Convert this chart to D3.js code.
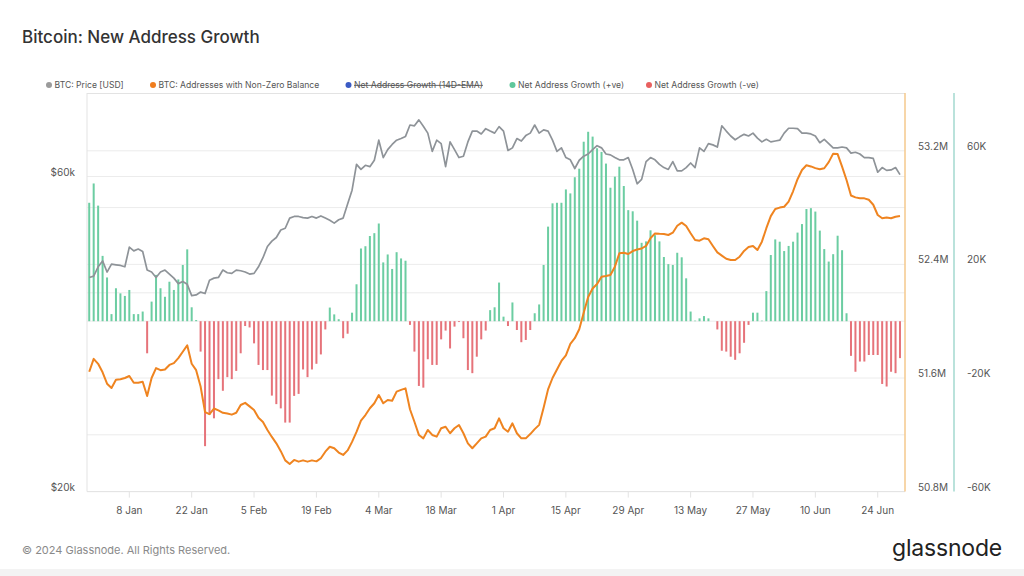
<!DOCTYPE html>
<html><head><meta charset="utf-8">
<script src="https://cdn.jsdelivr.net/npm/d3@7"></script>
<style>
body{margin:0;background:#fff;}
svg{display:block;font-family:Inter,"Open Sans","Noto Sans",sans-serif;}
</style>
</head><body><svg id="c" width="1024" height="576"></svg>
<script>
// ---------------- DATA ----------------
const startDate = "2023-12-30"; // first daily observation
const xTickLabels = ["2024-01-08","2024-01-22","2024-02-05","2024-02-19","2024-03-04","2024-03-18","2024-04-01","2024-04-15","2024-04-29","2024-05-13","2024-05-27","2024-06-10","2024-06-24"];

// BTC price, thousands USD (daily)
const priceK = [
42.2,42.4,43.8,44.7,43.0,44.2,44.1,44.0,43.8,46.9,
46.3,46.6,46.2,43.3,43.0,42.2,43.0,43.3,42.7,42.1,
41.3,41.6,41.2,39.6,39.7,40.1,39.9,41.8,42.1,42.2,
43.3,42.9,42.8,43.3,43.2,43.0,42.7,42.8,43.8,45.2,
47.0,47.9,48.5,49.8,50.1,51.9,52.2,52.2,52.0,51.9,
52.2,51.9,52.3,51.9,51.5,51.0,51.6,51.9,54.5,57.2,
62.6,61.5,62.4,62.1,63.5,68.1,64.1,65.9,67.1,68.1,
68.5,69.0,71.8,71.6,73.1,71.5,69.8,65.5,68.1,67.3,
62.1,67.7,65.9,64.1,64.4,67.7,70.3,70.3,69.6,70.9,
70.3,69.8,71.4,70.3,65.7,66.3,68.5,67.9,69.2,69.8,
71.8,69.8,70.6,70.3,68.1,65.5,66.3,64.1,63.6,61.7,
63.5,64.4,64.9,65.9,66.8,66.3,64.9,64.7,64.1,63.6,
63.6,64.1,61.5,58.5,59.4,63.2,64.1,63.6,62.6,61.9,
61.5,63.2,61.2,61.2,61.9,62.9,61.9,66.3,65.5,67.3,
67.0,66.5,71.6,70.3,69.1,68.2,68.9,69.5,69.1,69.8,
68.6,67.7,68.3,67.7,67.9,68.1,69.8,71.0,71.0,70.9,
69.8,69.8,69.6,69.1,67.5,68.3,67.3,66.3,66.3,66.5,
66.3,65.1,65.3,64.9,64.1,64.1,63.9,60.9,61.9,61.3,
61.4,61.9,60.4];

// Addresses with non-zero balance, millions (daily)
const addressesM = [
51.644,51.735,51.700,51.640,51.560,51.530,51.588,51.591,51.600,51.614,
51.567,51.567,51.574,51.473,51.600,51.670,51.655,51.660,51.692,51.705,
51.740,51.785,51.830,51.700,51.655,51.540,51.360,51.345,51.385,51.372,
51.355,51.350,51.342,51.355,51.410,51.425,51.400,51.375,51.320,51.290,
51.234,51.185,51.140,51.085,51.020,50.995,51.023,51.011,51.020,51.011,
51.020,51.013,51.035,51.081,51.116,51.105,51.075,51.058,51.090,51.150,
51.220,51.300,51.339,51.387,51.422,51.480,51.422,51.445,51.440,51.504,
51.516,51.527,51.380,51.292,51.199,51.175,51.234,51.199,51.187,51.246,
51.257,51.211,51.246,51.269,51.211,51.140,51.105,51.140,51.175,51.187,
51.234,51.246,51.316,51.246,51.222,51.281,51.211,51.175,51.175,51.205,
51.240,51.270,51.390,51.520,51.600,51.660,51.720,51.760,51.840,51.880,
51.943,52.060,52.170,52.230,52.262,52.313,52.318,52.325,52.384,52.478,
52.482,52.473,52.494,52.505,52.512,52.530,52.585,52.618,52.615,52.614,
52.607,52.623,52.672,52.694,52.670,52.619,52.572,52.567,52.584,52.577,
52.530,52.485,52.462,52.440,52.431,52.431,52.454,52.495,52.522,52.530,
52.501,52.560,52.655,52.740,52.790,52.800,52.806,52.842,52.915,53.000,
53.065,53.098,53.090,53.078,53.070,53.077,53.120,53.180,53.177,53.088,
52.994,52.885,52.872,52.866,52.865,52.855,52.820,52.748,52.725,52.730,
52.725,52.736,52.741];

// Net address growth, thousands (daily)
const netGrowthK = [
41.7,48.5,40.7,23.0,15.4,2.5,11.6,9.8,8.9,11.0,
2.5,2.5,3.4,-11.3,6.9,16.3,11.6,8.6,13.9,11.0,
14.7,19.8,25.3,4.9,0.4,-10.7,-44.0,-33.0,-34.2,-20.4,
-24.5,-19.7,-20.4,-17.5,-11.3,-1.7,-2.2,-7.8,-15.4,-17.2,
-17.2,-26.2,-29.2,-30.7,-35.7,-35.7,-26.3,-25.6,-17.0,-19.7,
-17.0,-15.0,-11.7,-2.9,4.8,2.4,0.7,-6.0,-4.4,3.0,
13.0,25.6,26.4,30.0,31.0,34.4,20.7,23.5,18.4,24.3,
22.1,21.3,-1.3,-10.7,-22.8,-23.4,-13.4,-15.4,-15.4,-6.4,
-3.3,-9.6,-1.9,-0.3,-6.0,-17.2,-18.3,-12.5,-6.4,-3.3,
3.9,4.9,13.6,1.6,-1.7,6.6,-3.1,-7.4,-6.6,-3.1,
2.8,5.9,19.8,33.3,41.5,41.7,41.7,46.4,45.0,50.7,
53.7,63.2,66.7,65.0,60.9,59.6,55.5,47.0,50.9,54.4,
47.6,39.1,38.7,35.4,27.6,28.1,32.0,30.3,28.1,22.6,
20.1,19.8,24.1,22.5,15.1,3.4,0.2,1.0,1.8,1.0,
0.0,-2.9,-10.4,-10.7,-12.5,-13.6,-11.3,-7.6,-1.3,3.0,
3.0,0.2,10.6,23.3,28.8,28.0,24.7,26.5,28.0,31.2,
34.2,39.5,39.8,38.6,31.9,25.4,21.0,23.6,30.1,25.0,
2.8,-12.2,-17.8,-14.2,-14.2,-11.9,-11.9,-11.9,-22.1,-23.0,
-17.8,-18.3,-13.0];

const priceGridTicks = [20,40,60];
const priceLabelTicks = [20,60];
const addrGridTicks = [50.8,51.2,51.6,52.0,52.4,52.8,53.2];
const addrLabelTicks = [50.8,51.6,52.4,53.2];
const netLabelTicks = [-60,-20,20,60];

const legendItems = [
  {label:"BTC: Price [USD]", color:"#9b9b9b", hidden:false},
  {label:"BTC: Addresses with Non-Zero Balance", color:"#f07d1d", hidden:false},
  {label:"Net Address Growth (14D-EMA)", color:"#3b5bc4", hidden:true},
  {label:"Net Address Growth (+ve)", color:"#5ec79b", hidden:false},
  {label:"Net Address Growth (-ve)", color:"#e8605f", hidden:false}
];

// ---------------- LAYOUT ----------------
const svg = d3.select("#c");
const L = 87, R = 905, T = 94, B = 491.6, R2 = 954;
const parse = d3.utcParse("%Y-%m-%d");
const d0 = parse(startDate);
const dates = priceK.map((_, i) => d3.utcDay.offset(d0, i));

const x = d3.scaleUtc()
  .domain([new Date(Date.UTC(2023,11,29,12)), new Date(Date.UTC(2024,5,30,3))])
  .range([L, R]);
const yPrice = d3.scaleLog().domain([20,80]).range([B, T]);
const yAddr = d3.scaleLinear().domain([50.8,53.6]).range([B, T]);
const yNet = d3.scaleLinear().domain([-60,80]).range([B, T]);

// title
svg.append("text").attr("x",22).attr("y",43).attr("font-size",17).attr("font-weight",500)
  .attr("fill","#333").text("Bitcoin: New Address Growth");

// legend
const legX = [49,153,348.5,512.5,649];
const leg = svg.append("g").attr("font-size",8.6).attr("fill","#555");
legendItems.forEach((it,i)=>{
  leg.append("circle").attr("cx",legX[i]).attr("cy",85).attr("r",3).attr("fill",it.color);
  const t = leg.append("text").attr("x",legX[i]+5.5).attr("y",88).text(it.label);
  if (it.hidden) t.attr("text-decoration","line-through");
});

// grid
const grid = svg.append("g").attr("stroke","#ececec").attr("stroke-width",1);
addrGridTicks.forEach(v=>{
  grid.append("line").attr("x1",L).attr("x2",R).attr("y1",yAddr(v)).attr("y2",yAddr(v));
});
priceGridTicks.forEach(v=>{
  grid.append("line").attr("x1",L).attr("x2",R).attr("y1",yPrice(v)).attr("y2",yPrice(v));
});

// frame
const frame = svg.append("g").attr("stroke","#e3e3e3").attr("stroke-width",1);
frame.append("line").attr("x1",L).attr("x2",L).attr("y1",T-1).attr("y2",B);
frame.append("line").attr("x1",L).attr("x2",R).attr("y1",T-0.5).attr("y2",T-0.5);
frame.append("line").attr("x1",L).attr("x2",R).attr("y1",B).attr("y2",B);

// x axis
const xTicks = xTickLabels.map(parse);
const fmt = d3.utcFormat("%-d %b");
const xa = svg.append("g");
xTicks.forEach(d=>{
  xa.append("line").attr("x1",x(d)).attr("x2",x(d)).attr("y1",B).attr("y2",B+6).attr("stroke","#e3e3e3");
  xa.append("text").attr("x",x(d)).attr("y",514).attr("text-anchor","middle")
    .attr("font-size",10).attr("fill","#555").text(fmt(d));
});

// left axis labels
priceLabelTicks.forEach(v=>{
  svg.append("text").attr("x",75).attr("y",yPrice(v)-1).attr("text-anchor","end")
    .attr("font-size",10).attr("fill","#555").text("$"+v+"k");
});
// right axes
svg.append("line").attr("x1",R).attr("x2",R).attr("y1",T-1).attr("y2",B).attr("stroke","#f4c88c").attr("stroke-width",1.5);
svg.append("line").attr("x1",R2).attr("x2",R2).attr("y1",T-1).attr("y2",B).attr("stroke","#a3d9cf").attr("stroke-width",1.5);
addrLabelTicks.forEach(v=>{
  svg.append("text").attr("x",918).attr("y",yAddr(v)-1).attr("font-size",10).attr("fill","#555").text(v.toFixed(1)+"M");
});
netLabelTicks.forEach(v=>{
  svg.append("text").attr("x",967).attr("y",yNet(v)-1).attr("font-size",10).attr("fill","#555").text(v+"K");
});

// bars
const bw = 2;
svg.append("g").selectAll("rect").data(netGrowthK).join("rect")
  .attr("x",(d,i)=>x(dates[i])-bw/2)
  .attr("y",d=>d>=0? yNet(d): yNet(0))
  .attr("width",bw)
  .attr("height",d=>Math.abs(yNet(d)-yNet(0)))
  .attr("fill",d=>d>=0? "#6ccda2":"#e6737a");

// price line
svg.append("path").datum(priceK)
  .attr("d", d3.line().x((d,i)=>x(dates[i])).y(d=>yPrice(d)))
  .attr("fill","none").attr("stroke","#8e9398").attr("stroke-width",1.7).attr("stroke-linejoin","round");

// addresses line
svg.append("path").datum(addressesM)
  .attr("d", d3.line().x((d,i)=>x(dates[i])).y(d=>yAddr(d)))
  .attr("fill","none").attr("stroke","#ef8420").attr("stroke-width",2).attr("stroke-linejoin","round");

// footer
svg.append("text").attr("x",22).attr("y",554).attr("font-size",11).attr("fill","#8a8a8a")
  .text("© 2024 Glassnode. All Rights Reserved.");
svg.append("text").attr("x",1002).attr("y",556).attr("text-anchor","end").attr("font-size",23)
  .attr("font-weight",400).attr("fill","#222").attr("letter-spacing",-0.2).text("glassnode");
svg.append("rect").attr("x",0).attr("y",569).attr("width",1024).attr("height",7).attr("fill","#f3f3f3");
</script>
</body></html>
